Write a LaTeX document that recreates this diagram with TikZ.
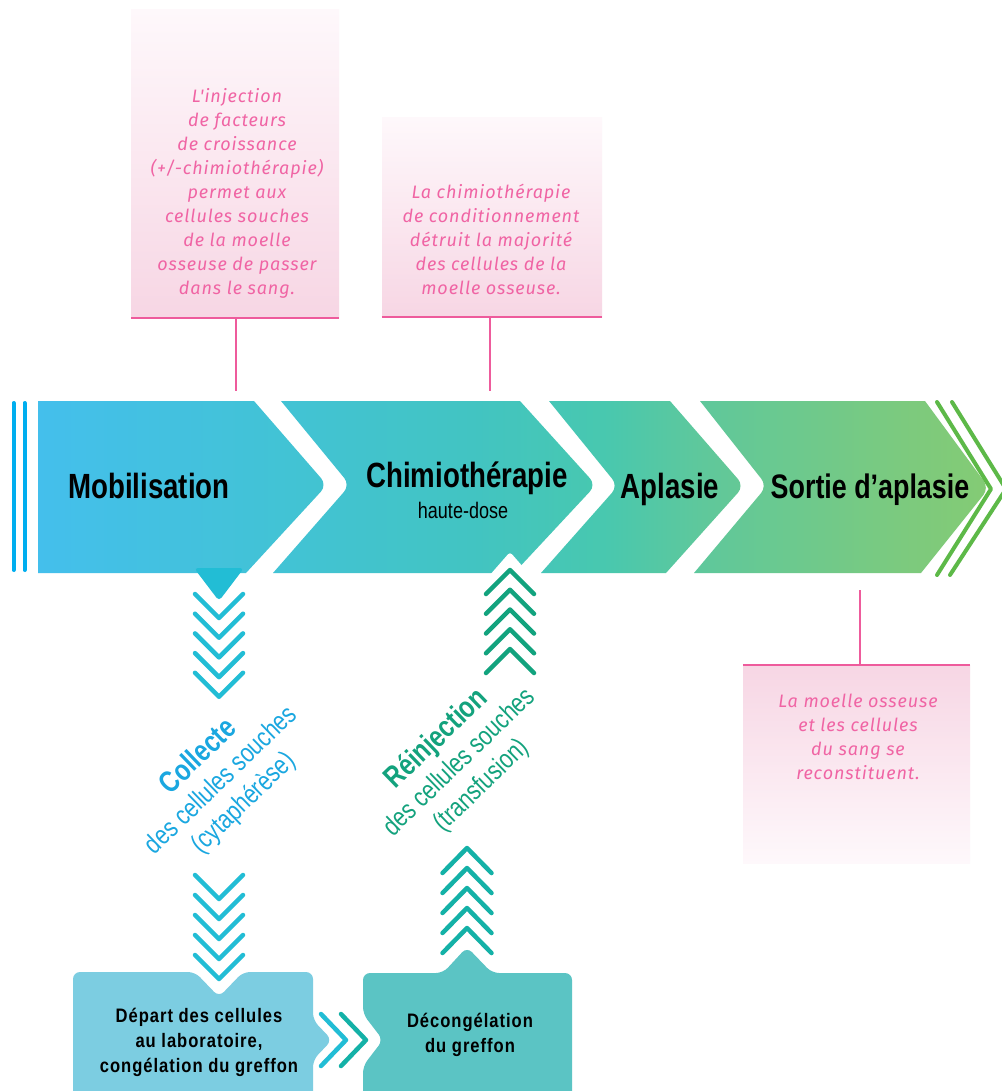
\documentclass[tikz,border=0pt]{standalone}
\usepackage{fontspec}
\setmainfont{Liberation Sans}
\newfontfamily\bandfont[FakeStretch=0.79]{Liberation Sans}
\newfontfamily\boxfont[FakeStretch=0.85,LetterSpace=5]{Liberation Sans}
\newfontfamily\rotfont[FakeStretch=0.8]{Liberation Sans}
\newfontfamily\pinkfont[LetterSpace=5]{Fira Sans}
\definecolor{bandA}{HTML}{44BFEC}
\definecolor{bandB}{HTML}{42C3D3}
\definecolor{bandC}{HTML}{42C4C2}
\definecolor{bandD}{HTML}{48C8AF}
\definecolor{bandE}{HTML}{5FC89B}
\definecolor{bandF}{HTML}{7CCA7E}
\definecolor{bandG}{HTML}{84CB74}
\definecolor{cyanline}{HTML}{00AEEF}
\definecolor{greenline}{HTML}{5DB948}
\definecolor{chevC}{HTML}{22BDD5}
\definecolor{chevG}{HTML}{12A37E}
\definecolor{chevT}{HTML}{14B1A7}
\definecolor{departC}{HTML}{7CCDE1}
\definecolor{decongC}{HTML}{5BC4C4}
\definecolor{pinkL}{HTML}{EE5B9C}
\definecolor{pinkT}{HTML}{F064A4}
\definecolor{pinkW}{HTML}{FEF8FB}
\definecolor{pinkM}{HTML}{FBE5EE}
\definecolor{pinkB}{HTML}{F7D6E4}
\definecolor{collC}{HTML}{1AA7E0}
\definecolor{reinC}{HTML}{13A27D}
\pgfdeclarehorizontalshading{bandshade}{100bp}{color(0bp)=(bandA); color(25bp)=(bandA); color(38.8bp)=(bandB); color(47.8bp)=(bandC); color(54.7bp)=(bandD); color(60bp)=(bandE); color(70.5bp)=(bandF); color(75bp)=(bandG); color(100bp)=(bandG)}
\tikzset{
  chevline/.style={line width=4.5pt, line cap=round, line join=round},
  pinkline/.style={draw=pinkL, line width=1.5pt},
  pinktext/.style={text=pinkT, align=center, font=\pinkfont\itshape\fontsize{18}{24}\selectfont, inner sep=0pt},
  bandlabel/.style={font=\bandfont\bfseries\fontsize{35}{40}\selectfont, inner sep=0pt, anchor=base},
  boxtext/.style={font=\boxfont\bfseries\fontsize{19.5}{25}\selectfont, align=center, inner sep=0pt},
  rottext/.style={align=center, inner sep=0pt, rotate=44, font=\rotfont\fontsize{27}{32}\selectfont},
}
\begin{document}
\begin{tikzpicture}[x=1pt,y=-1pt]
\useasboundingbox (0,0) rectangle (1001,1091);
\fill[white] (0,0) rectangle (1001,1091);

% pink boxes
\node[shade, top color=pinkW, middle color=pinkM, bottom color=pinkB, minimum width=208pt, minimum height=308pt, inner sep=0pt] (boxA) at (235,164) {};
\node[shade, top color=pinkW, middle color=pinkM, bottom color=pinkB, minimum width=220pt, minimum height=199pt, inner sep=0pt] (boxB) at (492,217.5) {};
\node[shade, top color=pinkB, middle color=pinkM, bottom color=pinkW, minimum width=227pt, minimum height=198pt, inner sep=0pt] (boxC) at (856.5,764) {};
\draw[pinkline] (boxA.south west) -- (boxA.south east);
\draw[pinkline] (boxB.south west) -- (boxB.south east);
\draw[pinkline] (boxC.north west) -- (boxC.north east);
\coordinate (a1) at (236,318); \coordinate (a2) at (236,391);
\coordinate (b1) at (490,317); \coordinate (b2) at (490,391);
\coordinate (c1) at (860,590); \coordinate (c2) at (860,665);
\draw[pinkline] (a1) -- (a2);
\draw[pinkline] (b1) -- (b2);
\draw[pinkline] (c1) -- (c2);

\node[pinktext] (tA) at (237,193) {L'injection\\de facteurs\\de croissance\\(+/-chimiothérapie)\\permet aux\\cellules souches\\de la moelle\\osseuse de passer\\dans le sang.};
\node[pinktext] (tB) at (491,239.5) {La chimiothérapie\\de conditionnement\\détruit la majorité\\des cellules de la\\moelle osseuse.};
\node[pinktext] (tC) at (858,737) {La moelle osseuse\\et les cellules\\du sang se\\reconstituent.};

% main band
\shade[shading=bandshade]
  (38,401) -- (254,401) [rounded corners=9] -- (327,485) [sharp corners] -- (246,573) -- (38,573) -- cycle
  (281,401) -- (520,401) [rounded corners=9] -- (596,485) [sharp corners] -- (514,573) -- (273,573) [rounded corners=9] -- (350,485) [sharp corners] -- cycle
  (549,401) -- (670,401) [rounded corners=9] -- (744,486) [sharp corners] -- (666,573) -- (541,573) [rounded corners=9] -- (618,486) [sharp corners] -- cycle
  (700,401) -- (925,401) [rounded corners=9] -- (989,488) [sharp corners] -- (921,573) -- (694,573) [rounded corners=9] -- (767,486) [sharp corners] -- cycle;

% left double line
\coordinate (l1a) at (13.5,403); \coordinate (l1b) at (13.5,570);
\coordinate (l2a) at (24.5,403); \coordinate (l2b) at (24.5,570);
\draw[cyanline, line width=4pt, line cap=round] (l1a) -- (l1b);
\draw[cyanline, line width=4pt, line cap=round] (l2a) -- (l2b);
% right double chevron lines
\draw[greenline, line width=4pt, line cap=round, line join=round] (937,402) -- (991,489) -- (937,575);
\draw[greenline, line width=4pt, line cap=round, line join=round] (952,402) -- (1006,489) -- (950,575);

% band labels
\node[bandlabel] (mob) at (149,498) {Mobilisation};
\node[bandlabel] (chimio) at (467,487) {Chimiothérapie};
\node[inner sep=0pt, anchor=base, font=\rotfont\fontsize{22.5}{24}\selectfont] (hd) at (463,518) {haute-dose};
\node[bandlabel] (apl) at (670,498) {Aplasie};
\node[bandlabel, font=\bandfont\bfseries\fontsize{34}{40}\selectfont] (sortie) at (870,498) {Sortie d’aplasie};

% tab under Mobilisation and notch in chimio
\fill[chevC, rounded corners=4] (194,568) -- (244,568) -- (219,601) -- cycle;
\fill[white, rounded corners=3] (489,576) -- (510,552) -- (531,576) -- cycle;

% chevrons group 1 (down)
\foreach \y in {594,613.7,633.4,653.1,672.8}
  \draw[chevline, chevC] (195,\y) -- (219,\y+24) -- (243,\y);
% chevrons group 1 (up)
\foreach \y in {570,589.75,609.5,629.25,649}
  \draw[chevline, chevG] (486,\y+24) -- (510,\y) -- (534,\y+24);

% rotated texts
\node[rottext, text=collC] (coll) at (221,780) {{\bfseries\fontsize{30}{32}\selectfont Collecte}\\des cellules souches\\(cytaphérèse)};
\node[rottext, text=reinC] (rein) at (459,762) {{\bfseries\fontsize{30}{32}\selectfont Réinjection}\\des cellules souches\\(transfusion)};

% chevrons group 2 (down)
\foreach \y in {875,895,915,935,955}
  \draw[chevline, chevC] (195,\y) -- (219,\y+24) -- (243,\y);
% chevrons group 2 (up)
\foreach \y in {848,868,888,908,928}
  \draw[chevline, chevT] (442.5,\y+25) -- (467,\y) -- (491.5,\y+25);

% bottom boxes
\fill[departC, rounded corners=7] (73,1105) -- (73,972) -- (195,972) -- (219,997) -- (243,972) -- (313,972) -- (313,1020) -- (332,1040) -- (313,1060) -- (313,1105) -- cycle;
\fill[decongC, rounded corners=7] (363,1105) -- (363,1066) -- (383,1040) -- (363,1014) -- (363,973) -- (443,973) -- (467,947) -- (492,973) -- (572,973) -- (572,1105) -- cycle;
\node[boxtext] (dep) at (199,1042) {Départ des cellules\\au laboratoire,\\congélation du greffon};
\node[boxtext] (dec) at (470,1035) {Décongélation\\du greffon};

% horizontal chevrons
\draw[chevline, chevC] (321,1014) -- (346,1040) -- (321,1066);
\draw[chevline, chevT] (341,1014) -- (366,1040) -- (341,1066);
\end{tikzpicture}
\end{document}
